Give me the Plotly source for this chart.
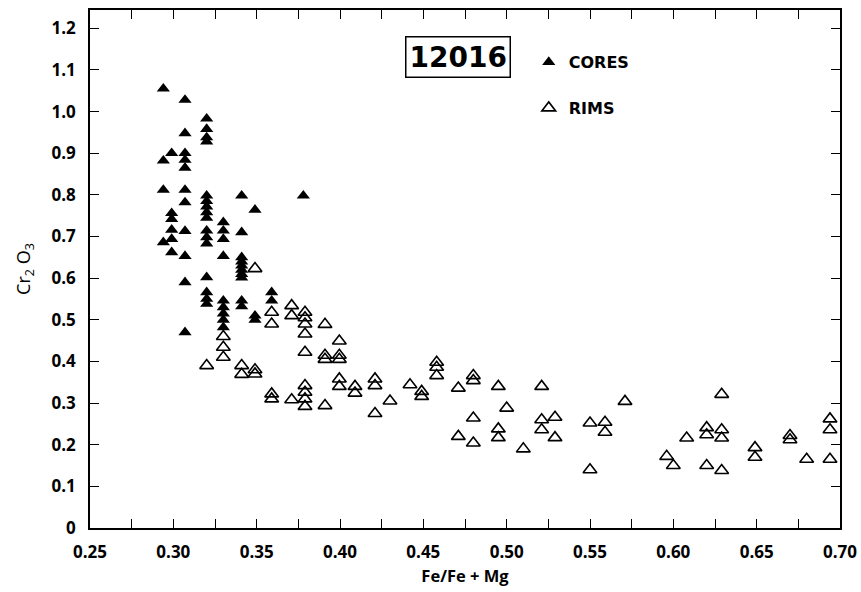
import plotly.graph_objects as go

# Pyroxene Cr2O3 vs Fe/(Fe+Mg), sample 12016
core_x = ([0.294] * 4 + [0.299] * 6 + [0.307] * 11 + [0.320] * 16 + [0.330] * 9
          + [0.341] * 10 + [0.349] * 3 + [0.359] * 2 + [0.378])
core_y = [1.055, 0.882, 0.812, 0.686,
          0.900, 0.756, 0.742, 0.716, 0.694, 0.662,
          1.028, 0.948, 0.900, 0.884, 0.865, 0.812, 0.782, 0.713, 0.653, 0.590, 0.470,
          0.983, 0.958, 0.938, 0.928, 0.798, 0.785, 0.772, 0.758, 0.745, 0.714, 0.698, 0.683,
          0.602, 0.566, 0.550, 0.538,
          0.734, 0.714, 0.694, 0.653, 0.546, 0.530, 0.515, 0.500, 0.482,
          0.798, 0.710, 0.650, 0.640, 0.630, 0.620, 0.610, 0.601, 0.546, 0.532,
          0.764, 0.510, 0.500,
          0.566, 0.546,
          0.798]

rim_x = ([0.320] + [0.330] * 3 + [0.341] * 2 + [0.349] * 3 + [0.359] * 4 + [0.371] * 3
         + [0.379] * 9 + [0.391] * 4 + [0.3996] * 5 + [0.409] * 2 + [0.421] * 3 + [0.430]
         + [0.442] + [0.449] * 2 + [0.458] * 3 + [0.471] * 2 + [0.480] * 4 + [0.495] * 3
         + [0.500] + [0.510] + [0.521] * 3 + [0.529] * 2 + [0.550] * 2 + [0.559] * 2
         + [0.571] + [0.596] + [0.600] + [0.608] + [0.620] * 3 + [0.629] * 4 + [0.649] * 2
         + [0.670] * 2 + [0.680] + [0.694] * 3)
rim_y = [0.390,
         0.460, 0.434, 0.410,
         0.390, 0.369,
         0.623, 0.380, 0.370,
         0.518, 0.490, 0.322, 0.310,
         0.534, 0.510, 0.308,
         0.518, 0.505, 0.490, 0.466, 0.422, 0.342, 0.326, 0.310, 0.292,
         0.489, 0.415, 0.405, 0.294,
         0.449, 0.415, 0.405, 0.358, 0.340,
         0.340, 0.324,
         0.358, 0.342, 0.275,
         0.305,
         0.344,
         0.328, 0.316,
         0.398, 0.386, 0.366,
         0.336, 0.220,
         0.366, 0.354, 0.264, 0.204,
         0.340, 0.238, 0.217,
         0.288,
         0.190,
         0.340, 0.260, 0.236,
         0.266, 0.217,
         0.252, 0.140,
         0.254, 0.230,
         0.304,
         0.172,
         0.150,
         0.216,
         0.241, 0.224, 0.150,
         0.321, 0.236, 0.216, 0.138,
         0.193, 0.170,
         0.222, 0.212,
         0.165,
         0.262, 0.236, 0.165]

y_ticks = [0, 0.1, 0.2, 0.3, 0.4, 0.5, 0.6, 0.7, 0.8, 0.9, 1.0, 1.1, 1.2]
y_tick_text = ["0", "0.1", "0.2", "0.3", "0.4", "0.5", "0.6", "0.7", "0.8", "0.9",
               "1.0", "1.1", "1.2"]

tick_font = dict(family="Open Sans", size=17, color="black", weight="bold")

fig = go.Figure()
fig.add_trace(go.Scatter(
    x=core_x, y=core_y, mode="markers", name="CORES", legendgroup="c",
    marker=dict(symbol="triangle-up", size=11.5, color="black"),
))
fig.add_trace(go.Scatter(
    x=rim_x, y=rim_y, mode="markers", name="RIMS", legendgroup="r",
    marker=dict(symbol="triangle-up-open", size=12, color="black",
                line=dict(width=1.6, color="black")),
))

axis_common = dict(
    showline=True, linecolor="black", linewidth=1.5, mirror="ticks",
    ticks="inside", ticklen=9, tickwidth=1.2, tickcolor="black",
    showgrid=False, zeroline=False, tickfont=tick_font,
)

fig.update_xaxes(
    range=[0.25, 0.70], tickvals=[0.25 + 0.05 * i for i in range(10)],
    tickformat=".2f", ticklabelstandoff=8,
    minor=dict(dtick=0.025, tick0=0.25, ticks="inside", ticklen=9, tickwidth=1.2,
               tickcolor="black", showgrid=False),
    title=dict(text="Fe/Fe + Mg", standoff=8,
               font=dict(family="Open Sans", size=16.5, color="black", weight="bold")),
    **axis_common,
)
fig.update_yaxes(
    range=[0, 1.244], tickvals=y_ticks, ticktext=y_tick_text, ticklabelstandoff=9,
    title=dict(text="Cr<sub>2</sub> O<sub>3</sub>", standoff=16,
               font=dict(family="Open Sans", size=18, color="black")),
    **axis_common,
)

# sample number in a framed box, positioned as fractions of the plot area
fig.add_annotation(
    x=(458 - 90) / 750, y=(528 - 57) / 518, xref="x domain", yref="y domain",
    xanchor="center", yanchor="middle", text="<b>12016</b>",
    showarrow=False, font=dict(family="DejaVu Sans", size=28, color="black"),
    bordercolor="black", borderwidth=1.5, borderpad=3,
)

fig.update_layout(
    template="none",
    width=861, height=592,
    margin=dict(l=90, r=21, t=10, b=64),
    paper_bgcolor="white", plot_bgcolor="white",
    font=dict(color="black"),
    showlegend=True,
    legend=dict(x=0.585, y=0.932, xanchor="left", yanchor="top",
                bgcolor="rgba(0,0,0,0)", tracegroupgap=22,
                font=dict(family="DejaVu Sans", size=16, color="black", weight="bold")),
)

fig.write_html("out.html")
